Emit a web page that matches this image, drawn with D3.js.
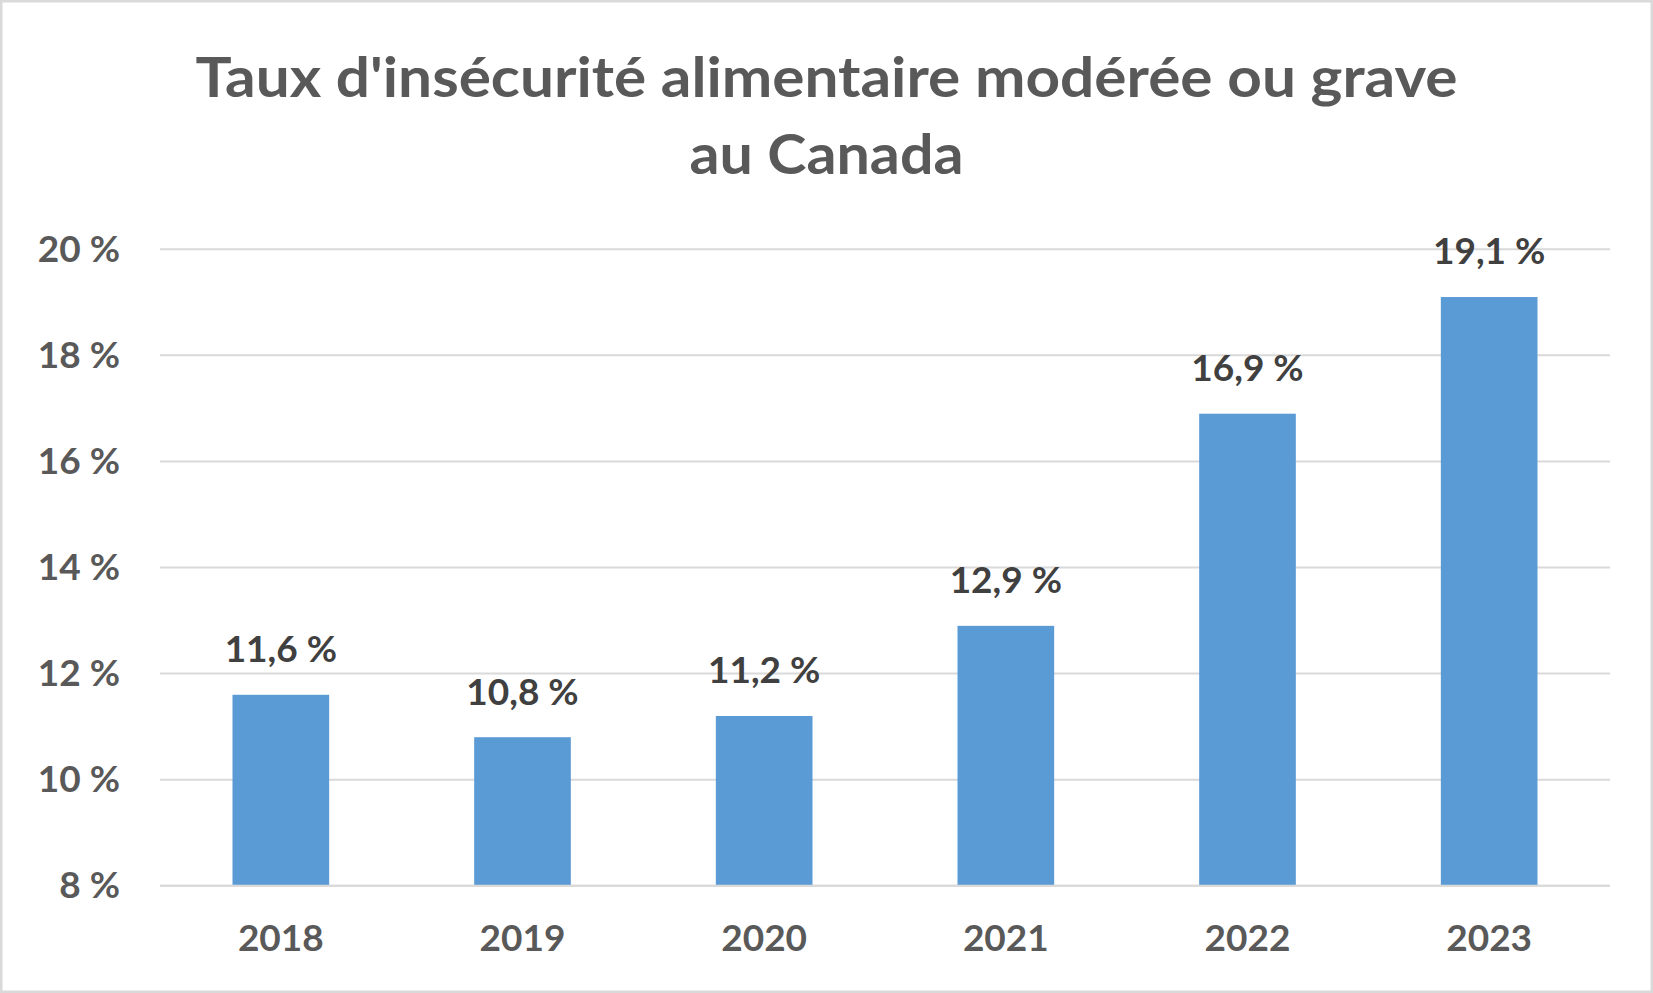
<!DOCTYPE html>
<html>
<head>
<meta charset="utf-8">
<script src="https://cdn.jsdelivr.net/npm/d3@7/dist/d3.min.js"></script>
<style>
  html, body { margin: 0; padding: 0; background: #fff; }
  svg { display: block; }
  text { font-family: Lato, "Open Sans", sans-serif; font-weight: bold; }
</style>
</head>
<body>
<svg id="chart" width="1653" height="993"></svg>
<script>
const titleLines = ["Taux d'insécurité alimentaire modérée ou grave", "au Canada"];
const years = ["2018", "2019", "2020", "2021", "2022", "2023"];
const rates = [11.6, 10.8, 11.2, 12.9, 16.9, 19.1];
const yTicks = [8, 10, 12, 14, 16, 18, 20];
const fmt = v => String(v).replace(".", ",") + " %";

const svg = d3.select("#chart");
const W = 1653, H = 993;

// outer border
svg.append("rect")
  .attr("x", 1.25).attr("y", 1.25)
  .attr("width", W - 2.5).attr("height", H - 2.5)
  .attr("fill", "#fff").attr("stroke", "#D9D9D9").attr("stroke-width", 2.5);

const m = { left: 160, right: 1610, top: 249.3, bottom: 885.7 };

const x = d3.scaleBand().domain(years).range([m.left, m.right])
  .paddingInner(0.6).paddingOuter(0.3);
const y = d3.scaleLinear().domain([8, 20]).range([m.bottom, m.top]);

// gridlines
svg.append("g").selectAll("line").data(yTicks).join("line")
  .attr("x1", m.left).attr("x2", m.right)
  .attr("y1", d => y(d)).attr("y2", d => y(d))
  .attr("stroke", "#D9D9D9").attr("stroke-width", 2);

// y labels
svg.append("g").selectAll("text").data(yTicks).join("text")
  .attr("x", 120).attr("y", d => y(d) + 12.5)
  .attr("text-anchor", "end")
  .attr("font-size", 37).attr("fill", "#595959")
  .text(d => d + " %");

// bars
svg.append("g").selectAll("rect").data(years).join("rect")
  .attr("x", d => x(d))
  .attr("width", x.bandwidth())
  .attr("y", (d, i) => y(rates[i]))
  .attr("height", (d, i) => y(8) - y(rates[i]))
  .attr("fill", "#5B9BD5");

// redraw axis line over bars
svg.append("line")
  .attr("x1", m.left).attr("x2", m.right)
  .attr("y1", y(8)).attr("y2", y(8))
  .attr("stroke", "#D9D9D9").attr("stroke-width", 2);

// data labels
svg.append("g").selectAll("text").data(years).join("text")
  .attr("x", d => x(d) + x.bandwidth() / 2)
  .attr("y", (d, i) => y(rates[i]) - 32.6)
  .attr("text-anchor", "middle")
  .attr("font-size", 37).attr("fill", "#404040")
  .text((d, i) => fmt(rates[i]));

// x labels
svg.append("g").selectAll("text").data(years).join("text")
  .attr("x", d => x(d) + x.bandwidth() / 2)
  .attr("y", y(8) + 65)
  .attr("text-anchor", "middle")
  .attr("font-size", 37).attr("fill", "#595959")
  .text(d => d);

// title
const titleBase = [97, 174];
const titleWidths = [1262, 274];
svg.append("g").selectAll("text").data(titleLines).join("text")
  .attr("x", W / 2)
  .attr("y", (d, i) => titleBase[i])
  .attr("text-anchor", "middle")
  .attr("font-size", 56).attr("fill", "#595959")
  .attr("textLength", (d, i) => titleWidths[i])
  .attr("lengthAdjust", "spacingAndGlyphs")
  .text(d => d);
</script>
</body>
</html>
